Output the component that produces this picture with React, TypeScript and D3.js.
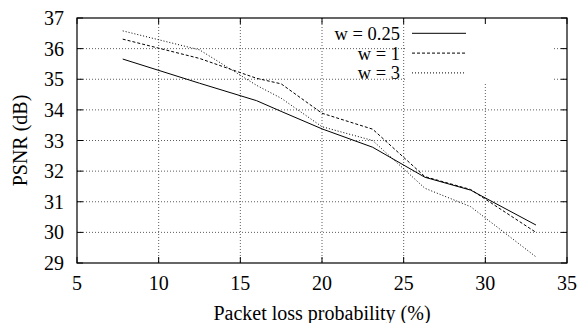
import React from 'react';
import * as d3 from 'd3';

// packet loss probability (%) for every measured point
const lossPct = [7.8, 12.5, 16, 17.5, 20, 23.1, 26.3, 29.1, 33.1];

// PSNR (dB) per weight
const psnrW025 = [35.66, 34.87, 34.3, 33.95, 33.38, 32.78, 31.8, 31.38, 30.24];
const psnrW1 = [36.31, 35.68, 35.03, 34.85, 33.89, 33.37, 31.82, 31.4, 30.0];
const psnrW3 = [36.58, 35.96, 34.8, 34.38, 33.45, 33.0, 31.44, 30.84, 29.2];

const xTicks = [5, 10, 15, 20, 25, 30, 35];
const yTicks = [29, 30, 31, 32, 33, 34, 35, 36, 37];

const series = [
  { label: 'w = 0.25', values: psnrW025, dash: 'none' },
  { label: 'w = 1', values: psnrW1, dash: '3,2' },
  { label: 'w = 3', values: psnrW3, dash: '1,2' },
];

const W = 579;
const H = 323;
const margin = { top: 18, right: 12, bottom: 60, left: 77 };

const App = () => {
  const width = W - margin.left - margin.right;
  const height = H - margin.top - margin.bottom;

  const x = d3.scaleLinear().domain([5, 35]).range([0, width]);
  const y = d3.scaleLinear().domain([29, 37]).range([height, 0]);

  const line = d3.line<[number, number]>()
    .x(d => x(d[0]))
    .y(d => y(d[1]));

  const font = '"Liberation Serif", "Times New Roman", serif';
  const fs = 20;
  const tick = 6;

  // legend placement
  const legX = 405 - margin.left;
  const legW = 148;
  const legH = 65;
  const rowH = 19.8;

  return (
    <svg width={W} height={H} style={{ position: 'absolute', left: 0, top: 0, background: '#fff', fontFamily: font }}>
      <g transform={`translate(${margin.left},${margin.top})`}>
        {/* grid */}
        {yTicks.slice(1, -1).map(t => (
          <line key={'gy' + t} x1={0} x2={width} y1={y(t)} y2={y(t)}
            stroke="#333" strokeWidth={0.8} strokeDasharray="1,2" />
        ))}
        {xTicks.slice(1, -1).map(t => (
          <line key={'gx' + t} x1={x(t)} x2={x(t)} y1={0} y2={height}
            stroke="#333" strokeWidth={0.8} strokeDasharray="1,2" />
        ))}

        {/* legend background */}
        <rect x={legX + 1} y={1} width={legW} height={legH} fill="#fff" />

        {/* ticks */}
        {yTicks.map(t => (
          <g key={'ty' + t}>
            <line x1={0} x2={tick} y1={y(t)} y2={y(t)} stroke="#000" />
            <line x1={width - tick} x2={width} y1={y(t)} y2={y(t)} stroke="#000" />
            <text x={-13} y={y(t)} dy="0.35em" textAnchor="end" fontSize={fs}>{t}</text>
          </g>
        ))}
        {xTicks.map(t => (
          <g key={'tx' + t}>
            <line x1={x(t)} x2={x(t)} y1={height} y2={height - tick} stroke="#000" />
            <line x1={x(t)} x2={x(t)} y1={0} y2={tick} stroke="#000" />
            <text x={x(t)} y={height + 27} textAnchor="middle" fontSize={fs}>{t}</text>
          </g>
        ))}

        {/* data */}
        {series.map(s => (
          <path key={s.label}
            d={line(lossPct.map((p, i) => [p, s.values[i]] as [number, number])) || ''}
            fill="none" stroke="#000" strokeWidth={1} strokeDasharray={s.dash} />
        ))}

        {/* legend */}
        {series.map((s, i) => (
          <g key={'leg' + s.label} transform={`translate(0,${15.3 + i * rowH})`}>
            <text x={400 - margin.left} y={0} dy="0.35em" textAnchor="end" fontSize={18.5}>{s.label}</text>
            <line x1={412 - margin.left} x2={466 - margin.left} y1={0} y2={0}
              stroke="#000" strokeWidth={1} strokeDasharray={s.dash} />
          </g>
        ))}

        {/* border */}
        <rect x={0} y={0} width={width} height={height} fill="none" stroke="#000" strokeWidth={1.2} />

        {/* axis titles */}
        <text x={width / 2} y={height + 57} textAnchor="middle" fontSize={fs}>Packet loss probability (%)</text>
        <text transform={`translate(${-50},${height / 2}) rotate(-90)`} textAnchor="middle" fontSize={fs}>PSNR (dB)</text>
      </g>
    </svg>
  );
};

export default App;
